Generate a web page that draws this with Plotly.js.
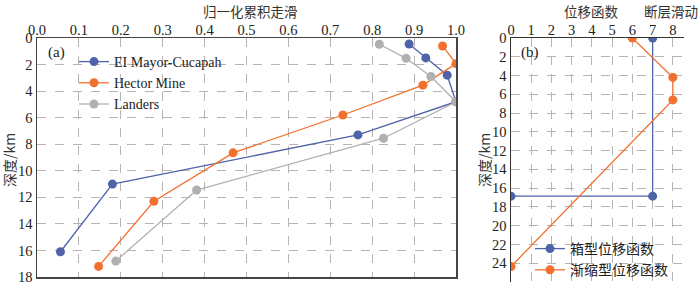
<!DOCTYPE html>
<html><head><meta charset="utf-8">
<script src="https://cdn.plot.ly/plotly-3.0.1.min.js"></script>
<style>body{margin:0;background:#fff}#c{width:700px;height:290px}</style>
</head><body><div id="c"></div>
<script>
// Panel (a): normalized cumulative slip vs depth
const emcSlip = [0.888, 0.928, 0.979, 1.0, 0.766, 0.18, 0.056];
const emcDepth = [0.45, 1.5, 2.8, 4.8, 7.3, 11.0, 16.1];
const hmSlip = [0.968, 1.0, 0.921, 0.73, 0.468, 0.279, 0.147];
const hmDepth = [0.6, 1.93, 3.55, 5.8, 8.65, 12.3, 17.2];
const laSlip = [0.817, 0.881, 0.94, 1.0, 0.827, 0.381, 0.188];
const laDepth = [0.47, 1.53, 2.9, 4.8, 7.55, 11.45, 16.8];
// Panel (b): displacement functions
const boxVal = [7, 7, 0];
const boxDepth = [0, 16.85, 16.85];
const taperVal = [6, 8, 8, 0];
const taperDepth = [0, 4.2, 6.6, 24.35];
const seriesNames = ['EI Mayor-Cucapah', 'Hector Mine', 'Landers'];
const funcNames = ['箱型位移函数', '渐缩型位移函数'];

const BLUE = '#4f63a8', ORANGE = '#f2702e', GRAY = '#b0b0b0';
const SERIF = 'Liberation Serif';
const CJK = 'Noto Sans CJK SC';

function tr(x, y, name, color, xa, ya, leg) {
  return {x: x, y: y, name: name, type: 'scatter', mode: 'lines+markers',
    xaxis: xa, yaxis: ya, legend: leg,
    line: {color: color, width: 1.3}, marker: {color: color, size: 9}};
}
const data = [
  tr(emcSlip, emcDepth, seriesNames[0], BLUE, 'x', 'y', 'legend'),
  tr(hmSlip, hmDepth, seriesNames[1], ORANGE, 'x', 'y', 'legend'),
  tr(laSlip, laDepth, seriesNames[2], GRAY, 'x', 'y', 'legend'),
  tr(boxVal, boxDepth, funcNames[0], BLUE, 'x2', 'y2', 'legend2'),
  tr(taperVal, taperDepth, funcNames[1], ORANGE, 'x2', 'y2', 'legend2')
];
function ax(extra) {
  const o = {showgrid: true, gridcolor: '#b9b3b3', griddash: 'dash', gridwidth: 1, zeroline: false,
    tickfont: {family: SERIF, size: 14.5, color: '#222'}, ticks: '', showline: true, linewidth: 1.5};
  for (const k in extra) o[k] = extra[k];
  return o;
}
const layout = {
  width: 700, height: 290, margin: {l: 0, r: 0, t: 0, b: 0},
  font: {family: SERIF, size: 14.5, color: '#222'},
  paper_bgcolor: '#fff', plot_bgcolor: '#fff', showlegend: true,
  xaxis: ax({domain: [37/700, 456/700], range: [0, 1.0], dtick: 0.1, tickformat: '.1f',
    side: 'top', anchor: 'y', linecolor: '#444', mirror: true, ticklabelstandoff: -4}),
  yaxis: ax({domain: [1 - 277/290, 1 - 38/290], range: [18, 0], dtick: 2,
    anchor: 'x', linecolor: '#444', mirror: true}),
  xaxis2: ax({domain: [511/700, 684/700], range: [0, 8.55], dtick: 1,
    side: 'top', anchor: 'y2', linecolor: '#333', ticklabelstandoff: -4}),
  yaxis2: ax({domain: [1 - 282/290, 1 - 38/290], range: [26, 0], dtick: 2,
    anchor: 'x2', linecolor: '#333'}),
  legend: {x: 74/700, y: 1 - 46/290, xanchor: 'left', yanchor: 'top', bgcolor: 'rgba(0,0,0,0)',
    font: {family: SERIF, size: 14, color: '#222'}, tracegroupgap: 0, itemwidth: 30},
  legend2: {x: 530/700, y: 1 - 233/290, xanchor: 'left', yanchor: 'top', bgcolor: 'rgba(0,0,0,0)',
    font: {family: CJK, size: 14, color: '#222'}, itemwidth: 30},
  annotations: [
    {text: '归一化累积走滑', xref: 'paper', yref: 'paper', x: 250/700, y: 1 - 11/290, xanchor: 'center', yanchor: 'middle', showarrow: false,
      font: {family: CJK, size: 13.5, color: '#333'}},
    {text: '位移函数', xref: 'paper', yref: 'paper', x: 591/700, y: 1 - 11/290, xanchor: 'center', yanchor: 'middle', showarrow: false,
      font: {family: CJK, size: 13.5, color: '#333'}},
    {text: '断层滑动', xref: 'paper', yref: 'paper', x: 700/700, y: 1 - 11/290, xanchor: 'right', yanchor: 'middle', showarrow: false,
      font: {family: CJK, size: 13.5, color: '#333'}},
    {text: '深度/km', xref: 'paper', yref: 'paper', x: 9/700, y: 1 - 160/290, xanchor: 'center', yanchor: 'middle', showarrow: false, textangle: -90,
      font: {family: CJK, size: 14, color: '#333'}},
    {text: '深度/km', xref: 'paper', yref: 'paper', x: 484/700, y: 1 - 160/290, xanchor: 'center', yanchor: 'middle', showarrow: false, textangle: -90,
      font: {family: CJK, size: 14, color: '#333'}},
    {text: '(a)', xref: 'paper', yref: 'paper', x: 56/700, y: 1 - 52/290, xanchor: 'center', yanchor: 'middle', showarrow: false,
      font: {family: SERIF, size: 15, color: '#222'}},
    {text: '(b)', xref: 'paper', yref: 'paper', x: 530/700, y: 1 - 52/290, xanchor: 'center', yanchor: 'middle', showarrow: false,
      font: {family: SERIF, size: 15, color: '#222'}}
  ]
};
Plotly.newPlot('c', data, layout, {staticPlot: true});
</script></body></html>
